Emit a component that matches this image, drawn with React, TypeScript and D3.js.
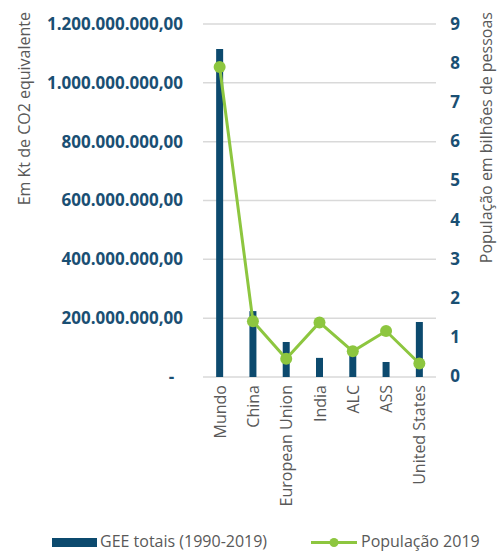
import React from "react";
import * as d3 from "d3";

const categories = ["Mundo", "China", "European Union", "India", "ALC", "ASS", "United States"];
const emissions = [1115000000, 224000000, 119000000, 65000000, 78000000, 51000000, 187000000];
const population = [7.9, 1.4, 0.44, 1.37, 0.63, 1.15, 0.32];
const leftTicks = [0, 200000000, 400000000, 600000000, 800000000, 1000000000, 1200000000];
const rightTicks = [0, 1, 2, 3, 4, 5, 6, 7, 8, 9];
const leftTitle = "Em Kt de CO2 equivalente";
const rightTitle = "População em bilhões de pessoas";
const legendBar = "GEE totais (1990-2019)";
const legendLine = "População 2019";

const W = 497, H = 551;
const plot = { left: 203, right: 436, top: 24, bottom: 377 };
const barColor = "#0c4a6e";
const lineColor = "#8dc63f";
const tickColor = "#1a4f73";
const textColor = "#595959";
const font = "'Open Sans', sans-serif";

const fmt = (v: number) => {
  if (v === 0) return "-  ";
  const s = d3.format(",.2f")(v);
  return s.replace(/,/g, "#").replace(/\./g, ",").replace(/#/g, ".");
};

export default function App() {
  const x = d3.scaleBand<string>().domain(categories).range([plot.left, plot.right]).padding(0);
  const yL = d3.scaleLinear().domain([0, 1200000000]).range([plot.bottom, plot.top]);
  const yR = d3.scaleLinear().domain([0, 9]).range([plot.bottom - 1, plot.top]);
  const cx = (c: string) => (x(c) as number) + x.bandwidth() / 2;
  const line = d3.line<number>().x((_, i) => cx(categories[i])).y((d) => yR(d));
  const barW = 7;

  return (
    <svg width={W} height={H} style={{ position: "absolute", left: 0, top: 0, background: "#fff" }} fontFamily={font}>
      {leftTicks.map((t) => (
        <line key={"g" + t} x1={plot.left} x2={plot.right} y1={yL(t)} y2={yL(t)} stroke="#d9d9d9" strokeWidth={1.5} />
      ))}
      {leftTicks.map((t) => (
        <text key={"l" + t} x={183} y={yL(t)} dy="0.35em" textAnchor="end" fontSize={17} fontWeight="bold" fill={tickColor} style={{ whiteSpace: "pre" }}>
          {fmt(t)}
        </text>
      ))}
      {rightTicks.map((t) => (
        <text key={"r" + t} x={455} y={yR(t)} dy="0.35em" textAnchor="middle" fontSize={17} fontWeight="bold" fill={tickColor}>
          {t}
        </text>
      ))}
      <text transform="translate(30,12) rotate(-90)" textAnchor="end" fontSize={16} fill={textColor}>{leftTitle}</text>
      <text transform="translate(492,12) rotate(-90)" textAnchor="end" fontSize={16} fill={textColor}>{rightTitle}</text>
      {categories.map((c, i) => (
        <rect key={"b" + c} x={cx(c) - barW / 2} y={yL(emissions[i])} width={barW} height={plot.bottom - yL(emissions[i])} fill={barColor} />
      ))}
      <path d={line(population) || ""} fill="none" stroke={lineColor} strokeWidth={3} />
      {population.map((p, i) => (
        <circle key={"p" + i} cx={cx(categories[i])} cy={yR(p)} r={6} fill={lineColor} />
      ))}
      {categories.map((c) => (
        <text key={"c" + c} transform={`translate(${cx(c) + 6},${plot.bottom + 8}) rotate(-90)`} textAnchor="end" fontSize={16} fill={textColor}>
          {c}
        </text>
      ))}
      <rect x={52} y={538} width={45} height={9} fill={barColor} />
      <text x={100} y={547} fontSize={16} fill={textColor}>{legendBar}</text>
      <line x1={311} x2={357} y1={542.5} y2={542.5} stroke={lineColor} strokeWidth={3} />
      <circle cx={334} cy={542.5} r={4.5} fill={lineColor} />
      <text x={361} y={547} fontSize={16} fill={textColor}>{legendLine}</text>
    </svg>
  );
}
